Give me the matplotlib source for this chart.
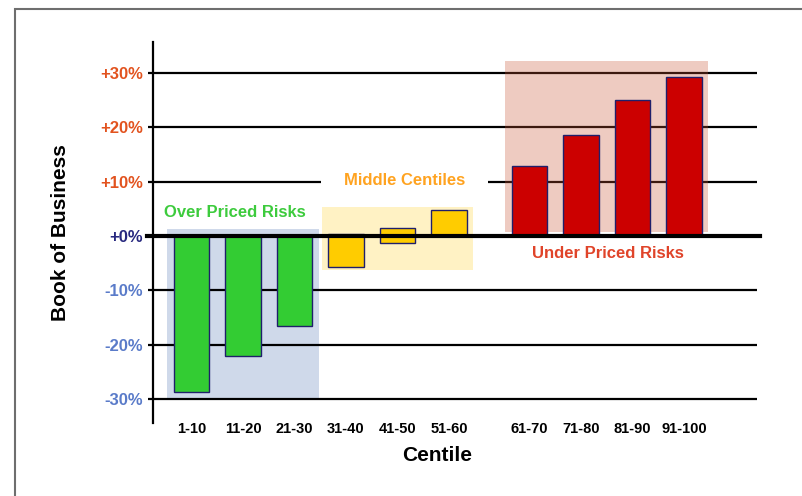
import numpy as np
import matplotlib
matplotlib.use("Agg")
import matplotlib.pyplot as plt
from matplotlib.patches import Rectangle

plt.rcParams['font.family'] = ['Liberation Sans', 'DejaVu Sans']

# Data
centiles = ['1-10', '11-20', '21-30', '31-40', '41-50', '51-60',
            '61-70', '71-80', '81-90', '91-100']
bar_low = [-28.7, -22.1, -16.5, -5.7, -1.2, 0.0, 0.0, 0.0, 0.0, 0.0]
bar_high = [0.0, 0.0, 0.0, 0.4, 1.5, 4.8, 12.9, 18.6, 25.1, 29.3]
group = [0, 0, 0, 1, 1, 1, 2, 2, 2, 2]

yticks = [-30, -20, -10, 0, 10, 20, 30]
ytick_labels = ['-30%', '-20%', '-10%', '+0%', '+10%', '+20%', '+30%']

group_names = ['Over Priced Risks', 'Middle Centiles', 'Under Priced Risks']
group_text_colors = ['#3DCB3D', '#FFA320', '#E0442A']
bar_colors = ['#33CC33', '#FFCC00', '#CC0000']

# layout: last group sits a bit further right
x = np.arange(len(centiles)) + np.where(np.array(group) == 2, 0.56, 0.0)

fig = plt.figure(figsize=(8.03, 4.96), dpi=100)
ax = fig.add_axes([153 / 803, 1 - 423 / 496, 607 / 803, 381 / 496])
ax.set_xlim(-0.7476, 11.039)
ax.set_ylim(-34.40, 35.69)

# shaded group backgrounds
pad = 0.13
w = 0.69
region_y = [(-30, 1.3), (-6.3, 5.3), (0.7, 32.2)]
region_style = [dict(color='#CFD9EA', zorder=0.5),
                dict(color='#FFF2C4', zorder=2),
                dict(color='#C85332', alpha=0.3, zorder=2)]
for g in range(3):
    xs = x[np.array(group) == g]
    x0 = xs.min() - w / 2 - pad
    x1 = xs.max() + w / 2 + pad
    y0, y1 = region_y[g]
    ax.add_patch(Rectangle((x0, y0), x1 - x0, y1 - y0, lw=0, **region_style[g]))

# gridlines
for t in yticks:
    if t == 0:
        ax.axhline(0, xmin=-6 / 607, xmax=1.0, color='black', lw=3.0,
                   zorder=4, clip_on=False)
    else:
        ax.hlines(t, -0.7476, 10.98, color='black', lw=1.6, zorder=1)

# bars
heights = np.array(bar_high) - np.array(bar_low)
colors = [bar_colors[g] for g in group]
ax.bar(x, heights, bottom=bar_low, width=w, color=colors,
       edgecolor='#1F1F6B', linewidth=1.0, zorder=3)

# group labels
ax.text(0.845, 4.4, group_names[0], color=group_text_colors[0],
        fontsize=12, fontweight='bold', ha='center', va='center', zorder=5)
ax.text(4.136, 10.3, group_names[1], color=group_text_colors[1],
        fontsize=12, fontweight='bold', ha='center', va='center', zorder=1.5,
        bbox=dict(boxstyle='square,pad=1.4', fc='white', ec='none'))
ax.text(8.078, -3.13, group_names[2], color=group_text_colors[2],
        fontsize=12, fontweight='bold', ha='center', va='center', zorder=5)

# axes styling
for s in ['top', 'right', 'bottom']:
    ax.spines[s].set_visible(False)
ax.spines['left'].set_linewidth(1.6)
ax.spines['left'].set_zorder(6)

ax.set_yticks(yticks)
ax.set_yticklabels(ytick_labels, fontsize=12, fontweight='bold')
for lab, t in zip(ax.get_yticklabels(), yticks):
    lab.set_color('#E2531F' if t > 0 else ('#27287F' if t == 0 else '#5A7BC9'))
ax.tick_params(axis='y', length=3.6, width=1.6, pad=3.6)

ax.set_xticks(x)
ax.set_xticklabels(centiles, fontsize=10.5, fontweight='bold')
ax.tick_params(axis='x', length=0, pad=-1)

ax.set_xlabel('Centile', fontsize=15, fontweight='bold')
ax.xaxis.set_label_coords(0.468, -0.06)
ax.set_ylabel('Book of Business', fontsize=15, fontweight='bold')
ax.yaxis.set_label_coords(-0.137, 0.5)

# outer frame
fig.add_artist(Rectangle((15.5 / 803, -0.2), 1.2, 1.2 - 8.5 / 496,
                         transform=fig.transFigure, fill=False,
                         edgecolor='#6E6E6E', lw=1.5))

fig.savefig('out.png', dpi=100)
